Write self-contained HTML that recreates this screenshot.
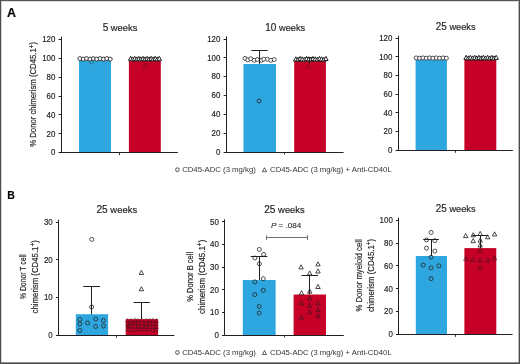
<!DOCTYPE html><html><head><meta charset="utf-8"><style>html,body{margin:0;padding:0;background:#fff;}svg{display:block;will-change:transform;}text{font-family:"Liberation Sans", sans-serif;stroke:#231f20;stroke-width:0.18px;}</style></head><body>
<svg width="520" height="364" viewBox="0 0 520 364">
<rect x="0" y="0" width="520" height="364" fill="#fff"/>
<text x="6.9" y="16.5" font-size="12" textLength="9" lengthAdjust="spacingAndGlyphs" font-weight="bold" fill="#000">A</text>
<text x="7.3" y="199.4" font-size="11.6" textLength="7.6" lengthAdjust="spacingAndGlyphs" font-weight="bold" fill="#000">B</text>
<text x="120" y="30.6" font-size="9.9" text-anchor="middle" textLength="34.6" lengthAdjust="spacingAndGlyphs" fill="#231f20"><tspan font-size="10.6">5</tspan> weeks</text>
<text x="285.3" y="30.7" font-size="9.9" text-anchor="middle" textLength="39.9" lengthAdjust="spacingAndGlyphs" fill="#231f20"><tspan font-size="10.6">10</tspan> weeks</text>
<text x="455.7" y="29.7" font-size="9.9" text-anchor="middle" textLength="39.8" lengthAdjust="spacingAndGlyphs" fill="#231f20"><tspan font-size="10.6">25</tspan> weeks</text>
<text x="116.8" y="213.4" font-size="9.9" text-anchor="middle" textLength="40.6" lengthAdjust="spacingAndGlyphs" fill="#231f20"><tspan font-size="10.6">25</tspan> weeks</text>
<text x="284.5" y="213" font-size="9.9" text-anchor="middle" textLength="40.6" lengthAdjust="spacingAndGlyphs" fill="#231f20"><tspan font-size="10.6">25</tspan> weeks</text>
<text x="455.7" y="211.7" font-size="9.9" text-anchor="middle" textLength="39.8" lengthAdjust="spacingAndGlyphs" fill="#231f20"><tspan font-size="10.6">25</tspan> weeks</text>
<line x1="61.5" y1="36.8" x2="61.5" y2="153.2" stroke="#231f20" stroke-width="1"/>
<line x1="58.6" y1="152.5" x2="61.3" y2="152.5" stroke="#231f20" stroke-width="1"/>
<text x="55.4" y="155.45" font-size="9" text-anchor="end" textLength="4.4" lengthAdjust="spacingAndGlyphs" fill="#231f20">0</text>
<line x1="58.6" y1="133.5" x2="61.3" y2="133.5" stroke="#231f20" stroke-width="1"/>
<text x="55.4" y="136.57" font-size="9" text-anchor="end" textLength="8.81" lengthAdjust="spacingAndGlyphs" fill="#231f20">20</text>
<line x1="58.6" y1="114.5" x2="61.3" y2="114.5" stroke="#231f20" stroke-width="1"/>
<text x="55.4" y="117.68" font-size="9" text-anchor="end" textLength="8.81" lengthAdjust="spacingAndGlyphs" fill="#231f20">40</text>
<line x1="58.6" y1="96.5" x2="61.3" y2="96.5" stroke="#231f20" stroke-width="1"/>
<text x="55.4" y="98.8" font-size="9" text-anchor="end" textLength="8.81" lengthAdjust="spacingAndGlyphs" fill="#231f20">60</text>
<line x1="58.6" y1="77.5" x2="61.3" y2="77.5" stroke="#231f20" stroke-width="1"/>
<text x="55.4" y="79.92" font-size="9" text-anchor="end" textLength="8.81" lengthAdjust="spacingAndGlyphs" fill="#231f20">80</text>
<line x1="58.6" y1="58.5" x2="61.3" y2="58.5" stroke="#231f20" stroke-width="1"/>
<text x="55.4" y="61.03" font-size="9" text-anchor="end" textLength="13.21" lengthAdjust="spacingAndGlyphs" fill="#231f20">100</text>
<line x1="58.6" y1="39.5" x2="61.3" y2="39.5" stroke="#231f20" stroke-width="1"/>
<text x="55.4" y="42.15" font-size="9" text-anchor="end" textLength="13.21" lengthAdjust="spacingAndGlyphs" fill="#231f20">120</text>
<rect x="79" y="60.6" width="32" height="92.1" fill="#2ea7e0"/>
<rect x="128.9" y="61" width="31.9" height="91.7" fill="#c60027"/>
<line x1="60.8" y1="152.5" x2="177.8" y2="152.5" stroke="#231f20" stroke-width="1.1"/>
<line x1="119.5" y1="152.7" x2="119.5" y2="155.2" stroke="#231f20" stroke-width="0.9"/>
<line x1="226.5" y1="36.4" x2="226.5" y2="152.5" stroke="#231f20" stroke-width="1"/>
<line x1="223.6" y1="152.5" x2="226.3" y2="152.5" stroke="#231f20" stroke-width="1"/>
<text x="220.4" y="154.75" font-size="9" text-anchor="end" textLength="4.4" lengthAdjust="spacingAndGlyphs" fill="#231f20">0</text>
<line x1="223.6" y1="133.5" x2="226.3" y2="133.5" stroke="#231f20" stroke-width="1"/>
<text x="220.4" y="135.92" font-size="9" text-anchor="end" textLength="8.81" lengthAdjust="spacingAndGlyphs" fill="#231f20">20</text>
<line x1="223.6" y1="114.5" x2="226.3" y2="114.5" stroke="#231f20" stroke-width="1"/>
<text x="220.4" y="117.08" font-size="9" text-anchor="end" textLength="8.81" lengthAdjust="spacingAndGlyphs" fill="#231f20">40</text>
<line x1="223.6" y1="95.5" x2="226.3" y2="95.5" stroke="#231f20" stroke-width="1"/>
<text x="220.4" y="98.25" font-size="9" text-anchor="end" textLength="8.81" lengthAdjust="spacingAndGlyphs" fill="#231f20">60</text>
<line x1="223.6" y1="76.5" x2="226.3" y2="76.5" stroke="#231f20" stroke-width="1"/>
<text x="220.4" y="79.42" font-size="9" text-anchor="end" textLength="8.81" lengthAdjust="spacingAndGlyphs" fill="#231f20">80</text>
<line x1="223.6" y1="57.5" x2="226.3" y2="57.5" stroke="#231f20" stroke-width="1"/>
<text x="220.4" y="60.58" font-size="9" text-anchor="end" textLength="13.21" lengthAdjust="spacingAndGlyphs" fill="#231f20">100</text>
<line x1="223.6" y1="39.5" x2="226.3" y2="39.5" stroke="#231f20" stroke-width="1"/>
<text x="220.4" y="41.75" font-size="9" text-anchor="end" textLength="13.21" lengthAdjust="spacingAndGlyphs" fill="#231f20">120</text>
<rect x="243.5" y="64" width="32.5" height="88" fill="#2ea7e0"/>
<rect x="294.2" y="61" width="31.7" height="91" fill="#c60027"/>
<line x1="225.8" y1="152.5" x2="343.6" y2="152.5" stroke="#231f20" stroke-width="1.1"/>
<line x1="284.5" y1="152" x2="284.5" y2="154.5" stroke="#231f20" stroke-width="0.9"/>
<line x1="398.5" y1="35.7" x2="398.5" y2="150.8" stroke="#231f20" stroke-width="1"/>
<line x1="395.6" y1="150.5" x2="398.3" y2="150.5" stroke="#231f20" stroke-width="1"/>
<text x="392.4" y="153.05" font-size="9" text-anchor="end" textLength="4.4" lengthAdjust="spacingAndGlyphs" fill="#231f20">0</text>
<line x1="395.6" y1="131.5" x2="398.3" y2="131.5" stroke="#231f20" stroke-width="1"/>
<text x="392.4" y="134.38" font-size="9" text-anchor="end" textLength="8.81" lengthAdjust="spacingAndGlyphs" fill="#231f20">20</text>
<line x1="395.6" y1="112.5" x2="398.3" y2="112.5" stroke="#231f20" stroke-width="1"/>
<text x="392.4" y="115.72" font-size="9" text-anchor="end" textLength="8.81" lengthAdjust="spacingAndGlyphs" fill="#231f20">40</text>
<line x1="395.6" y1="94.5" x2="398.3" y2="94.5" stroke="#231f20" stroke-width="1"/>
<text x="392.4" y="97.05" font-size="9" text-anchor="end" textLength="8.81" lengthAdjust="spacingAndGlyphs" fill="#231f20">60</text>
<line x1="395.6" y1="75.5" x2="398.3" y2="75.5" stroke="#231f20" stroke-width="1"/>
<text x="392.4" y="78.38" font-size="9" text-anchor="end" textLength="8.81" lengthAdjust="spacingAndGlyphs" fill="#231f20">80</text>
<line x1="395.6" y1="56.5" x2="398.3" y2="56.5" stroke="#231f20" stroke-width="1"/>
<text x="392.4" y="59.72" font-size="9" text-anchor="end" textLength="13.21" lengthAdjust="spacingAndGlyphs" fill="#231f20">100</text>
<line x1="395.6" y1="38.5" x2="398.3" y2="38.5" stroke="#231f20" stroke-width="1"/>
<text x="392.4" y="41.05" font-size="9" text-anchor="end" textLength="13.21" lengthAdjust="spacingAndGlyphs" fill="#231f20">120</text>
<rect x="415.6" y="59.7" width="31.3" height="90.6" fill="#2ea7e0"/>
<rect x="464.4" y="58.9" width="31.9" height="91.4" fill="#c60027"/>
<line x1="397.8" y1="150.5" x2="512.9" y2="150.5" stroke="#231f20" stroke-width="1.1"/>
<line x1="455.5" y1="150.3" x2="455.5" y2="152.8" stroke="#231f20" stroke-width="0.9"/>
<g transform="translate(36.3,94.4) rotate(-90)">
<text x="0" y="0" font-size="8.3" text-anchor="middle" textLength="104.8" lengthAdjust="spacingAndGlyphs" fill="#231f20">% Donor chimerism (CD45.1<tspan font-size="6.8" dy="-2.7">+</tspan><tspan dy="2.7">)</tspan></text>
</g>
<circle cx="91.4" cy="62" r="2" fill="none" stroke="#262626" stroke-width="0.8" stroke-opacity="0.5"/>
<circle cx="79.9" cy="58.6" r="2" fill="#fff" stroke="#262626" stroke-width="0.9"/>
<circle cx="83.27" cy="59.1" r="2" fill="#fff" stroke="#262626" stroke-width="0.9"/>
<circle cx="86.64" cy="58.6" r="2" fill="#fff" stroke="#262626" stroke-width="0.9"/>
<circle cx="90.01" cy="59.1" r="2" fill="#fff" stroke="#262626" stroke-width="0.9"/>
<circle cx="93.38" cy="58.6" r="2" fill="#fff" stroke="#262626" stroke-width="0.9"/>
<circle cx="96.75" cy="59.1" r="2" fill="#fff" stroke="#262626" stroke-width="0.9"/>
<circle cx="100.12" cy="58.6" r="2" fill="#fff" stroke="#262626" stroke-width="0.9"/>
<circle cx="103.49" cy="59.1" r="2" fill="#fff" stroke="#262626" stroke-width="0.9"/>
<circle cx="106.86" cy="58.6" r="2" fill="#fff" stroke="#262626" stroke-width="0.9"/>
<circle cx="110.23" cy="59.1" r="2" fill="#fff" stroke="#262626" stroke-width="0.9"/>
<polygon points="145,63.29 142.8,67.41 147.2,67.41" fill="none" stroke="#1a1a1a" stroke-width="0.8" stroke-opacity="0.35" stroke-linejoin="miter"/>
<polygon points="130.6,56.29 128.4,60.41 132.8,60.41" fill="#fff" stroke="#1a1a1a" stroke-width="0.95" stroke-linejoin="miter"/>
<polygon points="132.65,56.89 130.45,61.01 134.85,61.01" fill="#fff" stroke="#1a1a1a" stroke-width="0.95" stroke-linejoin="miter"/>
<polygon points="134.7,56.29 132.5,60.41 136.9,60.41" fill="#fff" stroke="#1a1a1a" stroke-width="0.95" stroke-linejoin="miter"/>
<polygon points="136.75,56.89 134.55,61.01 138.95,61.01" fill="#fff" stroke="#1a1a1a" stroke-width="0.95" stroke-linejoin="miter"/>
<polygon points="138.8,56.29 136.6,60.41 141,60.41" fill="#fff" stroke="#1a1a1a" stroke-width="0.95" stroke-linejoin="miter"/>
<polygon points="140.85,56.89 138.65,61.01 143.05,61.01" fill="#fff" stroke="#1a1a1a" stroke-width="0.95" stroke-linejoin="miter"/>
<polygon points="142.9,56.29 140.7,60.41 145.1,60.41" fill="#fff" stroke="#1a1a1a" stroke-width="0.95" stroke-linejoin="miter"/>
<polygon points="144.95,56.89 142.75,61.01 147.15,61.01" fill="#fff" stroke="#1a1a1a" stroke-width="0.95" stroke-linejoin="miter"/>
<polygon points="147,56.29 144.8,60.41 149.2,60.41" fill="#fff" stroke="#1a1a1a" stroke-width="0.95" stroke-linejoin="miter"/>
<polygon points="149.05,56.89 146.85,61.01 151.25,61.01" fill="#fff" stroke="#1a1a1a" stroke-width="0.95" stroke-linejoin="miter"/>
<polygon points="151.1,56.29 148.9,60.41 153.3,60.41" fill="#fff" stroke="#1a1a1a" stroke-width="0.95" stroke-linejoin="miter"/>
<polygon points="153.15,56.89 150.95,61.01 155.35,61.01" fill="#fff" stroke="#1a1a1a" stroke-width="0.95" stroke-linejoin="miter"/>
<polygon points="155.2,56.29 153,60.41 157.4,60.41" fill="#fff" stroke="#1a1a1a" stroke-width="0.95" stroke-linejoin="miter"/>
<polygon points="157.25,56.89 155.05,61.01 159.45,61.01" fill="#fff" stroke="#1a1a1a" stroke-width="0.95" stroke-linejoin="miter"/>
<polygon points="159.3,56.29 157.1,60.41 161.5,60.41" fill="#fff" stroke="#1a1a1a" stroke-width="0.95" stroke-linejoin="miter"/>
<circle cx="245" cy="58.4" r="2" fill="#fff" stroke="#262626" stroke-width="0.8"/>
<circle cx="247.7" cy="59.9" r="2" fill="#fff" stroke="#262626" stroke-width="0.8"/>
<circle cx="250.8" cy="58.8" r="2" fill="#fff" stroke="#262626" stroke-width="0.8"/>
<circle cx="254.2" cy="60.3" r="2" fill="#fff" stroke="#262626" stroke-width="0.8"/>
<circle cx="257.3" cy="59.5" r="2" fill="#fff" stroke="#262626" stroke-width="0.8"/>
<circle cx="261.5" cy="60.3" r="2" fill="#fff" stroke="#262626" stroke-width="0.8"/>
<circle cx="263.8" cy="59.2" r="2" fill="#fff" stroke="#262626" stroke-width="0.8"/>
<circle cx="267.3" cy="59.2" r="2" fill="#fff" stroke="#262626" stroke-width="0.8"/>
<circle cx="270.8" cy="60.3" r="2" fill="#fff" stroke="#262626" stroke-width="0.8"/>
<circle cx="274.2" cy="59.5" r="2" fill="#fff" stroke="#262626" stroke-width="0.8"/>
<circle cx="259.1" cy="101" r="2" fill="none" stroke="#262626" stroke-width="0.8"/>
<polygon points="308.5,63.59 306.3,67.71 310.7,67.71" fill="none" stroke="#1a1a1a" stroke-width="0.8" stroke-opacity="0.35" stroke-linejoin="miter"/>
<polygon points="295.8,56.79 293.6,60.91 298,60.91" fill="#fff" stroke="#1a1a1a" stroke-width="0.95" stroke-linejoin="miter"/>
<polygon points="297.95,57.19 295.75,61.31 300.15,61.31" fill="#fff" stroke="#1a1a1a" stroke-width="0.95" stroke-linejoin="miter"/>
<polygon points="300.1,56.39 297.9,60.51 302.3,60.51" fill="#fff" stroke="#1a1a1a" stroke-width="0.95" stroke-linejoin="miter"/>
<polygon points="302.25,56.79 300.05,60.91 304.45,60.91" fill="#fff" stroke="#1a1a1a" stroke-width="0.95" stroke-linejoin="miter"/>
<polygon points="304.4,57.19 302.2,61.31 306.6,61.31" fill="#fff" stroke="#1a1a1a" stroke-width="0.95" stroke-linejoin="miter"/>
<polygon points="306.55,56.39 304.35,60.51 308.75,60.51" fill="#fff" stroke="#1a1a1a" stroke-width="0.95" stroke-linejoin="miter"/>
<polygon points="308.7,56.79 306.5,60.91 310.9,60.91" fill="#fff" stroke="#1a1a1a" stroke-width="0.95" stroke-linejoin="miter"/>
<polygon points="310.85,57.19 308.65,61.31 313.05,61.31" fill="#fff" stroke="#1a1a1a" stroke-width="0.95" stroke-linejoin="miter"/>
<polygon points="313,56.39 310.8,60.51 315.2,60.51" fill="#fff" stroke="#1a1a1a" stroke-width="0.95" stroke-linejoin="miter"/>
<polygon points="315.15,56.79 312.95,60.91 317.35,60.91" fill="#fff" stroke="#1a1a1a" stroke-width="0.95" stroke-linejoin="miter"/>
<polygon points="317.3,57.19 315.1,61.31 319.5,61.31" fill="#fff" stroke="#1a1a1a" stroke-width="0.95" stroke-linejoin="miter"/>
<polygon points="319.45,56.39 317.25,60.51 321.65,60.51" fill="#fff" stroke="#1a1a1a" stroke-width="0.95" stroke-linejoin="miter"/>
<polygon points="321.6,56.79 319.4,60.91 323.8,60.91" fill="#fff" stroke="#1a1a1a" stroke-width="0.95" stroke-linejoin="miter"/>
<polygon points="323.75,57.19 321.55,61.31 325.95,61.31" fill="#fff" stroke="#1a1a1a" stroke-width="0.95" stroke-linejoin="miter"/>
<polygon points="325.9,56.39 323.7,60.51 328.1,60.51" fill="#fff" stroke="#1a1a1a" stroke-width="0.95" stroke-linejoin="miter"/>
<circle cx="416.2" cy="57.9" r="2" fill="#fff" stroke="#262626" stroke-width="0.8"/>
<circle cx="419.55" cy="58.2" r="2" fill="#fff" stroke="#262626" stroke-width="0.8"/>
<circle cx="422.9" cy="57.9" r="2" fill="#fff" stroke="#262626" stroke-width="0.8"/>
<circle cx="426.25" cy="58.2" r="2" fill="#fff" stroke="#262626" stroke-width="0.8"/>
<circle cx="429.6" cy="57.9" r="2" fill="#fff" stroke="#262626" stroke-width="0.8"/>
<circle cx="432.95" cy="58.2" r="2" fill="#fff" stroke="#262626" stroke-width="0.8"/>
<circle cx="436.3" cy="57.9" r="2" fill="#fff" stroke="#262626" stroke-width="0.8"/>
<circle cx="439.65" cy="58.2" r="2" fill="#fff" stroke="#262626" stroke-width="0.8"/>
<circle cx="443" cy="57.9" r="2" fill="#fff" stroke="#262626" stroke-width="0.8"/>
<circle cx="446.35" cy="58.2" r="2" fill="#fff" stroke="#262626" stroke-width="0.8"/>
<polygon points="466.1,55.29 463.9,59.41 468.3,59.41" fill="#fff" stroke="#1a1a1a" stroke-width="0.95" stroke-linejoin="miter"/>
<polygon points="468.25,55.89 466.05,60.01 470.45,60.01" fill="#fff" stroke="#1a1a1a" stroke-width="0.95" stroke-linejoin="miter"/>
<polygon points="470.4,55.29 468.2,59.41 472.6,59.41" fill="#fff" stroke="#1a1a1a" stroke-width="0.95" stroke-linejoin="miter"/>
<polygon points="472.55,55.89 470.35,60.01 474.75,60.01" fill="#fff" stroke="#1a1a1a" stroke-width="0.95" stroke-linejoin="miter"/>
<polygon points="474.7,55.29 472.5,59.41 476.9,59.41" fill="#fff" stroke="#1a1a1a" stroke-width="0.95" stroke-linejoin="miter"/>
<polygon points="476.85,55.89 474.65,60.01 479.05,60.01" fill="#fff" stroke="#1a1a1a" stroke-width="0.95" stroke-linejoin="miter"/>
<polygon points="479,55.29 476.8,59.41 481.2,59.41" fill="#fff" stroke="#1a1a1a" stroke-width="0.95" stroke-linejoin="miter"/>
<polygon points="481.15,55.89 478.95,60.01 483.35,60.01" fill="#fff" stroke="#1a1a1a" stroke-width="0.95" stroke-linejoin="miter"/>
<polygon points="483.3,55.29 481.1,59.41 485.5,59.41" fill="#fff" stroke="#1a1a1a" stroke-width="0.95" stroke-linejoin="miter"/>
<polygon points="485.45,55.89 483.25,60.01 487.65,60.01" fill="#fff" stroke="#1a1a1a" stroke-width="0.95" stroke-linejoin="miter"/>
<polygon points="487.6,55.29 485.4,59.41 489.8,59.41" fill="#fff" stroke="#1a1a1a" stroke-width="0.95" stroke-linejoin="miter"/>
<polygon points="489.75,55.89 487.55,60.01 491.95,60.01" fill="#fff" stroke="#1a1a1a" stroke-width="0.95" stroke-linejoin="miter"/>
<polygon points="491.9,55.29 489.7,59.41 494.1,59.41" fill="#fff" stroke="#1a1a1a" stroke-width="0.95" stroke-linejoin="miter"/>
<polygon points="494.05,55.89 491.85,60.01 496.25,60.01" fill="#fff" stroke="#1a1a1a" stroke-width="0.95" stroke-linejoin="miter"/>
<polygon points="496.2,55.29 494,59.41 498.4,59.41" fill="#fff" stroke="#1a1a1a" stroke-width="0.95" stroke-linejoin="miter"/>
<circle cx="177.4" cy="169.7" r="1.85" fill="#fff" stroke="#262626" stroke-width="0.8"/>
<text x="182.2" y="172.4" font-size="7.2" textLength="73.6" lengthAdjust="spacingAndGlyphs" fill="#333" style="stroke:none">CD45-ADC (3 mg/kg)</text>
<polygon points="264.5,167.77 262.4,171.73 266.6,171.73" fill="#fff" stroke="#1a1a1a" stroke-width="0.7" stroke-linejoin="miter"/>
<text x="270.1" y="172.4" font-size="7.2" textLength="121.6" lengthAdjust="spacingAndGlyphs" fill="#333" style="stroke:none">CD45-ADC (3 mg/kg) + Anti-CD40L</text>
<circle cx="177.4" cy="352.5" r="1.85" fill="#fff" stroke="#262626" stroke-width="0.8"/>
<text x="182.2" y="355.2" font-size="7.2" textLength="73.6" lengthAdjust="spacingAndGlyphs" fill="#333" style="stroke:none">CD45-ADC (3 mg/kg)</text>
<polygon points="264.5,350.57 262.4,354.53 266.6,354.53" fill="#fff" stroke="#1a1a1a" stroke-width="0.7" stroke-linejoin="miter"/>
<text x="270.1" y="355.2" font-size="7.2" textLength="121.6" lengthAdjust="spacingAndGlyphs" fill="#333" style="stroke:none">CD45-ADC (3 mg/kg) + Anti-CD40L</text>
<line x1="58.5" y1="219.6" x2="58.5" y2="335.8" stroke="#231f20" stroke-width="1"/>
<line x1="55.9" y1="335.5" x2="58.6" y2="335.5" stroke="#231f20" stroke-width="1"/>
<text x="52.7" y="338.05" font-size="9" text-anchor="end" textLength="4.4" lengthAdjust="spacingAndGlyphs" fill="#231f20">0</text>
<line x1="55.9" y1="297.5" x2="58.6" y2="297.5" stroke="#231f20" stroke-width="1"/>
<text x="52.7" y="300.35" font-size="9" text-anchor="end" textLength="8.81" lengthAdjust="spacingAndGlyphs" fill="#231f20">10</text>
<line x1="55.9" y1="259.5" x2="58.6" y2="259.5" stroke="#231f20" stroke-width="1"/>
<text x="52.7" y="262.65" font-size="9" text-anchor="end" textLength="8.81" lengthAdjust="spacingAndGlyphs" fill="#231f20">20</text>
<line x1="55.9" y1="222.5" x2="58.6" y2="222.5" stroke="#231f20" stroke-width="1"/>
<text x="52.7" y="224.95" font-size="9" text-anchor="end" textLength="8.81" lengthAdjust="spacingAndGlyphs" fill="#231f20">30</text>
<rect x="75.8" y="314.2" width="32.3" height="21.1" fill="#2ea7e0"/>
<rect x="125.7" y="319.1" width="32.4" height="16.2" fill="#c60027"/>
<line x1="58.1" y1="335.5" x2="174.4" y2="335.5" stroke="#231f20" stroke-width="1.1"/>
<line x1="116.5" y1="335.3" x2="116.5" y2="337.8" stroke="#231f20" stroke-width="0.9"/>
<line x1="224.5" y1="219.3" x2="224.5" y2="335.5" stroke="#231f20" stroke-width="1"/>
<line x1="222" y1="335.5" x2="224.7" y2="335.5" stroke="#231f20" stroke-width="1"/>
<text x="218.8" y="337.75" font-size="9" text-anchor="end" textLength="4.4" lengthAdjust="spacingAndGlyphs" fill="#231f20">0</text>
<line x1="222" y1="312.5" x2="224.7" y2="312.5" stroke="#231f20" stroke-width="1"/>
<text x="218.8" y="315.13" font-size="9" text-anchor="end" textLength="8.81" lengthAdjust="spacingAndGlyphs" fill="#231f20">10</text>
<line x1="222" y1="289.5" x2="224.7" y2="289.5" stroke="#231f20" stroke-width="1"/>
<text x="218.8" y="292.51" font-size="9" text-anchor="end" textLength="8.81" lengthAdjust="spacingAndGlyphs" fill="#231f20">20</text>
<line x1="222" y1="267.5" x2="224.7" y2="267.5" stroke="#231f20" stroke-width="1"/>
<text x="218.8" y="269.89" font-size="9" text-anchor="end" textLength="8.81" lengthAdjust="spacingAndGlyphs" fill="#231f20">30</text>
<line x1="222" y1="244.5" x2="224.7" y2="244.5" stroke="#231f20" stroke-width="1"/>
<text x="218.8" y="247.27" font-size="9" text-anchor="end" textLength="8.81" lengthAdjust="spacingAndGlyphs" fill="#231f20">40</text>
<line x1="222" y1="221.5" x2="224.7" y2="221.5" stroke="#231f20" stroke-width="1"/>
<text x="218.8" y="224.65" font-size="9" text-anchor="end" textLength="8.81" lengthAdjust="spacingAndGlyphs" fill="#231f20">50</text>
<rect x="242.8" y="280" width="32.8" height="55" fill="#2ea7e0"/>
<rect x="293.6" y="294.5" width="32.4" height="40.5" fill="#c60027"/>
<line x1="224.2" y1="335.5" x2="343.8" y2="335.5" stroke="#231f20" stroke-width="1.1"/>
<line x1="284.5" y1="335" x2="284.5" y2="337.5" stroke="#231f20" stroke-width="0.9"/>
<line x1="398.5" y1="217.7" x2="398.5" y2="334.9" stroke="#231f20" stroke-width="1"/>
<line x1="396" y1="334.5" x2="398.7" y2="334.5" stroke="#231f20" stroke-width="1"/>
<text x="392.8" y="337.15" font-size="9" text-anchor="end" textLength="4.4" lengthAdjust="spacingAndGlyphs" fill="#231f20">0</text>
<line x1="396" y1="311.5" x2="398.7" y2="311.5" stroke="#231f20" stroke-width="1"/>
<text x="392.8" y="314.33" font-size="9" text-anchor="end" textLength="8.81" lengthAdjust="spacingAndGlyphs" fill="#231f20">20</text>
<line x1="396" y1="288.5" x2="398.7" y2="288.5" stroke="#231f20" stroke-width="1"/>
<text x="392.8" y="291.51" font-size="9" text-anchor="end" textLength="8.81" lengthAdjust="spacingAndGlyphs" fill="#231f20">40</text>
<line x1="396" y1="265.5" x2="398.7" y2="265.5" stroke="#231f20" stroke-width="1"/>
<text x="392.8" y="268.69" font-size="9" text-anchor="end" textLength="8.81" lengthAdjust="spacingAndGlyphs" fill="#231f20">60</text>
<line x1="396" y1="243.5" x2="398.7" y2="243.5" stroke="#231f20" stroke-width="1"/>
<text x="392.8" y="245.87" font-size="9" text-anchor="end" textLength="8.81" lengthAdjust="spacingAndGlyphs" fill="#231f20">80</text>
<line x1="396" y1="220.5" x2="398.7" y2="220.5" stroke="#231f20" stroke-width="1"/>
<text x="392.8" y="223.05" font-size="9" text-anchor="end" textLength="13.21" lengthAdjust="spacingAndGlyphs" fill="#231f20">100</text>
<rect x="415.8" y="256" width="31.2" height="78.4" fill="#2ea7e0"/>
<rect x="464.4" y="248.1" width="31.9" height="86.3" fill="#c60027"/>
<line x1="398.2" y1="334.5" x2="512.6" y2="334.5" stroke="#231f20" stroke-width="1.1"/>
<line x1="455.5" y1="334.4" x2="455.5" y2="336.9" stroke="#231f20" stroke-width="0.9"/>
<g transform="translate(25.6,276.8) rotate(-90)">
<text x="0" y="0" font-size="8.3" text-anchor="middle" textLength="44.6" lengthAdjust="spacingAndGlyphs" fill="#231f20">% Donor T cell</text>
</g>
<g transform="translate(38,276.8) rotate(-90)">
<text x="0" y="0" font-size="8.3" text-anchor="middle" textLength="73.2" lengthAdjust="spacingAndGlyphs" fill="#231f20">chimerism (CD45.1<tspan font-size="6.8" dy="-2.7">+</tspan><tspan dy="2.7">)</tspan></text>
</g>
<g transform="translate(193.1,276.8) rotate(-90)">
<text x="0" y="0" font-size="8.3" text-anchor="middle" textLength="49.8" lengthAdjust="spacingAndGlyphs" fill="#231f20">% Donor B cell</text>
</g>
<g transform="translate(205,276.8) rotate(-90)">
<text x="0" y="0" font-size="8.3" text-anchor="middle" textLength="74.2" lengthAdjust="spacingAndGlyphs" fill="#231f20">chimerism (CD45.1<tspan font-size="6.8" dy="-2.7">+</tspan><tspan dy="2.7">)</tspan></text>
</g>
<g transform="translate(361.5,275.5) rotate(-90)">
<text x="0" y="0" font-size="8.3" text-anchor="middle" textLength="72.2" lengthAdjust="spacingAndGlyphs" fill="#231f20">% Donor myeloid cell</text>
</g>
<g transform="translate(373.6,275.5) rotate(-90)">
<text x="0" y="0" font-size="8.3" text-anchor="middle" textLength="73.2" lengthAdjust="spacingAndGlyphs" fill="#231f20">chimerism (CD45.1<tspan font-size="6.8" dy="-2.7">+</tspan><tspan dy="2.7">)</tspan></text>
</g>
<circle cx="91.7" cy="239.4" r="2" fill="#fff" stroke="#262626" stroke-width="0.8"/>
<circle cx="91.6" cy="307" r="2" fill="#fff" stroke="#262626" stroke-width="0.8"/>
<circle cx="79.8" cy="319.5" r="2" fill="none" stroke="#262626" stroke-width="0.8"/>
<circle cx="79.8" cy="324" r="2" fill="none" stroke="#262626" stroke-width="0.8"/>
<circle cx="79.8" cy="330.5" r="2" fill="none" stroke="#262626" stroke-width="0.8"/>
<circle cx="87.5" cy="323" r="2" fill="none" stroke="#262626" stroke-width="0.8"/>
<circle cx="95.7" cy="319" r="2" fill="none" stroke="#262626" stroke-width="0.8"/>
<circle cx="95.7" cy="326.5" r="2" fill="none" stroke="#262626" stroke-width="0.8"/>
<circle cx="103.5" cy="320.5" r="2" fill="none" stroke="#262626" stroke-width="0.8"/>
<circle cx="103.5" cy="326" r="2" fill="none" stroke="#262626" stroke-width="0.8"/>
<polygon points="141.4,270.39 139.2,274.51 143.6,274.51" fill="#fff" stroke="#1a1a1a" stroke-width="0.8" stroke-linejoin="miter"/>
<polygon points="141.4,286.69 139.2,290.81 143.6,290.81" fill="#fff" stroke="#1a1a1a" stroke-width="0.8" stroke-linejoin="miter"/>
<polygon points="127.49,318.13 125.29,322.26 129.69,322.26" fill="none" stroke="#1a1a1a" stroke-width="0.7" stroke-opacity="0.45" stroke-linejoin="miter"/>
<polygon points="131.21,318.19 129.01,322.32 133.41,322.32" fill="none" stroke="#1a1a1a" stroke-width="0.7" stroke-opacity="0.45" stroke-linejoin="miter"/>
<polygon points="135.08,317.65 132.88,321.78 137.28,321.78" fill="none" stroke="#1a1a1a" stroke-width="0.7" stroke-opacity="0.45" stroke-linejoin="miter"/>
<polygon points="137.9,318.42 135.7,322.55 140.1,322.55" fill="none" stroke="#1a1a1a" stroke-width="0.7" stroke-opacity="0.45" stroke-linejoin="miter"/>
<polygon points="141.76,317.82 139.56,321.95 143.96,321.95" fill="none" stroke="#1a1a1a" stroke-width="0.7" stroke-opacity="0.45" stroke-linejoin="miter"/>
<polygon points="146.21,318.06 144.01,322.18 148.41,322.18" fill="none" stroke="#1a1a1a" stroke-width="0.7" stroke-opacity="0.45" stroke-linejoin="miter"/>
<polygon points="149.58,318.06 147.38,322.19 151.78,322.19" fill="none" stroke="#1a1a1a" stroke-width="0.7" stroke-opacity="0.45" stroke-linejoin="miter"/>
<polygon points="152.9,317.74 150.7,321.86 155.1,321.86" fill="none" stroke="#1a1a1a" stroke-width="0.7" stroke-opacity="0.45" stroke-linejoin="miter"/>
<polygon points="156.46,318.45 154.26,322.58 158.66,322.58" fill="none" stroke="#1a1a1a" stroke-width="0.7" stroke-opacity="0.45" stroke-linejoin="miter"/>
<polygon points="127.83,321.33 125.63,325.46 130.03,325.46" fill="none" stroke="#1a1a1a" stroke-width="0.7" stroke-opacity="0.45" stroke-linejoin="miter"/>
<polygon points="131.57,320.65 129.37,324.78 133.77,324.78" fill="none" stroke="#1a1a1a" stroke-width="0.7" stroke-opacity="0.45" stroke-linejoin="miter"/>
<polygon points="135.23,321.18 133.03,325.31 137.43,325.31" fill="none" stroke="#1a1a1a" stroke-width="0.7" stroke-opacity="0.45" stroke-linejoin="miter"/>
<polygon points="138.25,320.62 136.05,324.75 140.45,324.75" fill="none" stroke="#1a1a1a" stroke-width="0.7" stroke-opacity="0.45" stroke-linejoin="miter"/>
<polygon points="142.49,321.06 140.29,325.19 144.69,325.19" fill="none" stroke="#1a1a1a" stroke-width="0.7" stroke-opacity="0.45" stroke-linejoin="miter"/>
<polygon points="145.88,321.46 143.68,325.59 148.08,325.59" fill="none" stroke="#1a1a1a" stroke-width="0.7" stroke-opacity="0.45" stroke-linejoin="miter"/>
<polygon points="149.43,321.51 147.23,325.64 151.63,325.64" fill="none" stroke="#1a1a1a" stroke-width="0.7" stroke-opacity="0.45" stroke-linejoin="miter"/>
<polygon points="152.61,321.39 150.41,325.51 154.81,325.51" fill="none" stroke="#1a1a1a" stroke-width="0.7" stroke-opacity="0.45" stroke-linejoin="miter"/>
<polygon points="156.23,321.52 154.03,325.65 158.43,325.65" fill="none" stroke="#1a1a1a" stroke-width="0.7" stroke-opacity="0.45" stroke-linejoin="miter"/>
<polygon points="128.25,323.68 126.05,327.81 130.45,327.81" fill="none" stroke="#1a1a1a" stroke-width="0.7" stroke-opacity="0.45" stroke-linejoin="miter"/>
<polygon points="130.93,323.8 128.73,327.93 133.13,327.93" fill="none" stroke="#1a1a1a" stroke-width="0.7" stroke-opacity="0.45" stroke-linejoin="miter"/>
<polygon points="135.48,324.02 133.28,328.15 137.68,328.15" fill="none" stroke="#1a1a1a" stroke-width="0.7" stroke-opacity="0.45" stroke-linejoin="miter"/>
<polygon points="138.64,323.89 136.44,328.02 140.84,328.02" fill="none" stroke="#1a1a1a" stroke-width="0.7" stroke-opacity="0.45" stroke-linejoin="miter"/>
<polygon points="142.06,323.97 139.86,328.1 144.26,328.1" fill="none" stroke="#1a1a1a" stroke-width="0.7" stroke-opacity="0.45" stroke-linejoin="miter"/>
<polygon points="145.43,324.17 143.23,328.3 147.63,328.3" fill="none" stroke="#1a1a1a" stroke-width="0.7" stroke-opacity="0.45" stroke-linejoin="miter"/>
<polygon points="149.28,324.49 147.08,328.62 151.48,328.62" fill="none" stroke="#1a1a1a" stroke-width="0.7" stroke-opacity="0.45" stroke-linejoin="miter"/>
<polygon points="152.96,324.51 150.76,328.64 155.16,328.64" fill="none" stroke="#1a1a1a" stroke-width="0.7" stroke-opacity="0.45" stroke-linejoin="miter"/>
<polygon points="156.73,324.58 154.53,328.7 158.93,328.7" fill="none" stroke="#1a1a1a" stroke-width="0.7" stroke-opacity="0.45" stroke-linejoin="miter"/>
<polygon points="128.01,326.75 125.81,330.88 130.21,330.88" fill="none" stroke="#1a1a1a" stroke-width="0.7" stroke-opacity="0.45" stroke-linejoin="miter"/>
<polygon points="132.3,327.55 130.1,331.68 134.5,331.68" fill="none" stroke="#1a1a1a" stroke-width="0.7" stroke-opacity="0.45" stroke-linejoin="miter"/>
<polygon points="136.43,327.16 134.23,331.28 138.63,331.28" fill="none" stroke="#1a1a1a" stroke-width="0.7" stroke-opacity="0.45" stroke-linejoin="miter"/>
<polygon points="140.27,326.8 138.07,330.93 142.47,330.93" fill="none" stroke="#1a1a1a" stroke-width="0.7" stroke-opacity="0.45" stroke-linejoin="miter"/>
<polygon points="144.48,327.16 142.28,331.29 146.68,331.29" fill="none" stroke="#1a1a1a" stroke-width="0.7" stroke-opacity="0.45" stroke-linejoin="miter"/>
<polygon points="147.9,326.65 145.7,330.78 150.1,330.78" fill="none" stroke="#1a1a1a" stroke-width="0.7" stroke-opacity="0.45" stroke-linejoin="miter"/>
<polygon points="152.65,327.58 150.45,331.7 154.85,331.7" fill="none" stroke="#1a1a1a" stroke-width="0.7" stroke-opacity="0.45" stroke-linejoin="miter"/>
<polygon points="155.81,327.39 153.61,331.51 158.01,331.51" fill="none" stroke="#1a1a1a" stroke-width="0.7" stroke-opacity="0.45" stroke-linejoin="miter"/>
<circle cx="259.3" cy="249.4" r="2" fill="#fff" stroke="#262626" stroke-width="0.8"/>
<circle cx="263.6" cy="254.4" r="2" fill="#fff" stroke="#262626" stroke-width="0.8"/>
<circle cx="254.9" cy="258" r="2" fill="#fff" stroke="#262626" stroke-width="0.8"/>
<circle cx="259.4" cy="263.8" r="2" fill="#fff" stroke="#262626" stroke-width="0.8"/>
<circle cx="254.8" cy="281.9" r="2" fill="none" stroke="#262626" stroke-width="0.8"/>
<circle cx="263.3" cy="278.7" r="2" fill="none" stroke="#262626" stroke-width="0.8"/>
<circle cx="263.3" cy="290.3" r="2" fill="none" stroke="#262626" stroke-width="0.8"/>
<circle cx="254.8" cy="294.6" r="2" fill="none" stroke="#262626" stroke-width="0.8"/>
<circle cx="259.2" cy="306.5" r="2" fill="none" stroke="#262626" stroke-width="0.8"/>
<circle cx="259.2" cy="313" r="2" fill="none" stroke="#262626" stroke-width="0.8"/>
<polygon points="301.1,264.79 298.9,268.91 303.3,268.91" fill="#fff" stroke="#1a1a1a" stroke-width="0.8" stroke-linejoin="miter"/>
<polygon points="318,261.79 315.8,265.91 320.2,265.91" fill="#fff" stroke="#1a1a1a" stroke-width="0.8" stroke-linejoin="miter"/>
<polygon points="318,268.89 315.8,273.01 320.2,273.01" fill="#fff" stroke="#1a1a1a" stroke-width="0.8" stroke-linejoin="miter"/>
<polygon points="309.7,270.89 307.5,275.01 311.9,275.01" fill="#fff" stroke="#1a1a1a" stroke-width="0.8" stroke-linejoin="miter"/>
<polygon points="318,284.39 315.8,288.51 320.2,288.51" fill="#fff" stroke="#1a1a1a" stroke-width="0.8" stroke-linejoin="miter"/>
<polygon points="301.5,290.59 299.3,294.71 303.7,294.71" fill="#fff" stroke="#1a1a1a" stroke-width="0.8" stroke-linejoin="miter"/>
<polygon points="309.7,288.99 307.5,293.11 311.9,293.11" fill="#fff" stroke="#1a1a1a" stroke-width="0.8" stroke-linejoin="miter"/>
<polygon points="309.7,295.89 307.5,300.01 311.9,300.01" fill="none" stroke="#1a1a1a" stroke-width="0.8" stroke-opacity="0.7" stroke-linejoin="miter"/>
<polygon points="301.5,300.79 299.3,304.91 303.7,304.91" fill="none" stroke="#1a1a1a" stroke-width="0.8" stroke-opacity="0.7" stroke-linejoin="miter"/>
<polygon points="309.7,303.29 307.5,307.41 311.9,307.41" fill="none" stroke="#1a1a1a" stroke-width="0.8" stroke-opacity="0.7" stroke-linejoin="miter"/>
<polygon points="318,300.79 315.8,304.91 320.2,304.91" fill="none" stroke="#1a1a1a" stroke-width="0.8" stroke-opacity="0.7" stroke-linejoin="miter"/>
<polygon points="318,307.49 315.8,311.61 320.2,311.61" fill="none" stroke="#1a1a1a" stroke-width="0.8" stroke-opacity="0.7" stroke-linejoin="miter"/>
<polygon points="309.7,309.89 307.5,314.01 311.9,314.01" fill="none" stroke="#1a1a1a" stroke-width="0.8" stroke-opacity="0.7" stroke-linejoin="miter"/>
<polygon points="318,313.19 315.8,317.31 320.2,317.31" fill="none" stroke="#1a1a1a" stroke-width="0.8" stroke-opacity="0.7" stroke-linejoin="miter"/>
<polygon points="301.5,314.89 299.3,319.01 303.7,319.01" fill="none" stroke="#1a1a1a" stroke-width="0.8" stroke-opacity="0.7" stroke-linejoin="miter"/>
<line x1="266.3" y1="237.5" x2="307.1" y2="237.5" stroke="#6d6e71" stroke-width="1"/>
<line x1="266.5" y1="235.3" x2="266.5" y2="240" stroke="#6d6e71" stroke-width="1"/>
<line x1="307.5" y1="235.3" x2="307.5" y2="240" stroke="#6d6e71" stroke-width="1"/>
<text x="270.9" y="228.2" font-size="7.6" textLength="30.4" lengthAdjust="spacingAndGlyphs" fill="#2a2a2a" style="stroke-width:0.08px"><tspan font-style="italic">P</tspan> = .084</text>
<circle cx="431.1" cy="232.4" r="2" fill="#fff" stroke="#262626" stroke-width="0.8"/>
<circle cx="426.5" cy="239.9" r="2" fill="#fff" stroke="#262626" stroke-width="0.8"/>
<circle cx="434.8" cy="240.7" r="2" fill="#fff" stroke="#262626" stroke-width="0.8"/>
<circle cx="426.5" cy="248.1" r="2" fill="#fff" stroke="#262626" stroke-width="0.8"/>
<circle cx="434.8" cy="251.1" r="2" fill="#fff" stroke="#262626" stroke-width="0.8"/>
<circle cx="431.1" cy="257.2" r="2" fill="none" stroke="#262626" stroke-width="0.8"/>
<circle cx="423.2" cy="265.1" r="2" fill="none" stroke="#262626" stroke-width="0.8"/>
<circle cx="431.1" cy="267.9" r="2" fill="none" stroke="#262626" stroke-width="0.8"/>
<circle cx="438.9" cy="265.8" r="2" fill="none" stroke="#262626" stroke-width="0.8"/>
<circle cx="431.1" cy="278.6" r="2" fill="none" stroke="#262626" stroke-width="0.8"/>
<polygon points="465.7,233.49 463.5,237.61 467.9,237.61" fill="#fff" stroke="#1a1a1a" stroke-width="0.8" stroke-linejoin="miter"/>
<polygon points="473.2,232.69 471,236.81 475.4,236.81" fill="#fff" stroke="#1a1a1a" stroke-width="0.8" stroke-linejoin="miter"/>
<polygon points="480.2,231.39 478,235.51 482.4,235.51" fill="#fff" stroke="#1a1a1a" stroke-width="0.8" stroke-linejoin="miter"/>
<polygon points="487.7,234.69 485.5,238.81 489.9,238.81" fill="#fff" stroke="#1a1a1a" stroke-width="0.8" stroke-linejoin="miter"/>
<polygon points="494.6,231.89 492.4,236.01 496.8,236.01" fill="#fff" stroke="#1a1a1a" stroke-width="0.8" stroke-linejoin="miter"/>
<polygon points="473.2,238.49 471,242.61 475.4,242.61" fill="#fff" stroke="#1a1a1a" stroke-width="0.8" stroke-linejoin="miter"/>
<polygon points="480.2,237.99 478,242.11 482.4,242.11" fill="#fff" stroke="#1a1a1a" stroke-width="0.8" stroke-linejoin="miter"/>
<polygon points="480.2,242.89 478,247.01 482.4,247.01" fill="#fff" stroke="#1a1a1a" stroke-width="0.8" stroke-linejoin="miter"/>
<polygon points="480.2,248.39 478,252.51 482.4,252.51" fill="none" stroke="#1a1a1a" stroke-width="0.8" stroke-opacity="0.6" stroke-linejoin="miter"/>
<polygon points="465.7,256.59 463.5,260.71 467.9,260.71" fill="none" stroke="#1a1a1a" stroke-width="0.8" stroke-opacity="0.6" stroke-linejoin="miter"/>
<polygon points="472.8,257.49 470.6,261.61 475,261.61" fill="none" stroke="#1a1a1a" stroke-width="0.8" stroke-opacity="0.6" stroke-linejoin="miter"/>
<polygon points="480.2,257.89 478,262.01 482.4,262.01" fill="none" stroke="#1a1a1a" stroke-width="0.8" stroke-opacity="0.6" stroke-linejoin="miter"/>
<polygon points="487.7,257.89 485.5,262.01 489.9,262.01" fill="none" stroke="#1a1a1a" stroke-width="0.8" stroke-opacity="0.6" stroke-linejoin="miter"/>
<polygon points="494.6,255.79 492.4,259.91 496.8,259.91" fill="none" stroke="#1a1a1a" stroke-width="0.8" stroke-opacity="0.6" stroke-linejoin="miter"/>
<polygon points="480.2,265.69 478,269.81 482.4,269.81" fill="none" stroke="#1a1a1a" stroke-width="0.8" stroke-opacity="0.6" stroke-linejoin="miter"/>
<line x1="259.5" y1="50.9" x2="259.5" y2="64" stroke="#231f20" stroke-width="1"/>
<line x1="251.4" y1="50.5" x2="267.7" y2="50.5" stroke="#231f20" stroke-width="1"/>
<line x1="309.5" y1="57.5" x2="309.5" y2="63.5" stroke="#231f20" stroke-width="0.9"/>
<line x1="305.5" y1="57.5" x2="313.5" y2="57.5" stroke="#231f20" stroke-width="0.9"/>
<line x1="91.5" y1="286.9" x2="91.5" y2="314.2" stroke="#231f20" stroke-width="1"/>
<line x1="83.3" y1="286.5" x2="99.9" y2="286.5" stroke="#231f20" stroke-width="1"/>
<line x1="141.5" y1="302.3" x2="141.5" y2="319.1" stroke="#231f20" stroke-width="1"/>
<line x1="133.6" y1="302.5" x2="149.9" y2="302.5" stroke="#231f20" stroke-width="1"/>
<line x1="259.5" y1="256.7" x2="259.5" y2="280" stroke="#231f20" stroke-width="1"/>
<line x1="250.7" y1="256.5" x2="267.3" y2="256.5" stroke="#231f20" stroke-width="1"/>
<line x1="309.5" y1="275.6" x2="309.5" y2="294.5" stroke="#231f20" stroke-width="1"/>
<line x1="301.5" y1="275.5" x2="318" y2="275.5" stroke="#231f20" stroke-width="1"/>
<line x1="431.5" y1="239.9" x2="431.5" y2="256" stroke="#231f20" stroke-width="1"/>
<line x1="423.2" y1="239.5" x2="438.9" y2="239.5" stroke="#231f20" stroke-width="1"/>
<line x1="480.5" y1="235.7" x2="480.5" y2="248.1" stroke="#231f20" stroke-width="1"/>
<line x1="472.3" y1="235.5" x2="488" y2="235.5" stroke="#231f20" stroke-width="1"/>
<rect x="1" y="1" width="1" height="361" fill="#d4d4d4"/>
<rect x="518" y="1" width="1" height="361" fill="#b8b8b8"/>
<rect x="1" y="1" width="518" height="1" fill="#dcdcdc"/>
<rect x="0" y="362" width="520" height="1" fill="#8c8c8c"/>
<rect x="0" y="0" width="520" height="1" fill="#555555"/>
<rect x="0" y="0" width="1" height="364" fill="#4d4d4d"/>
<rect x="519" y="0" width="1" height="364" fill="#4d4d4d"/>
<rect x="0" y="363" width="520" height="1" fill="#4a4a4a"/>
</svg></body></html>
